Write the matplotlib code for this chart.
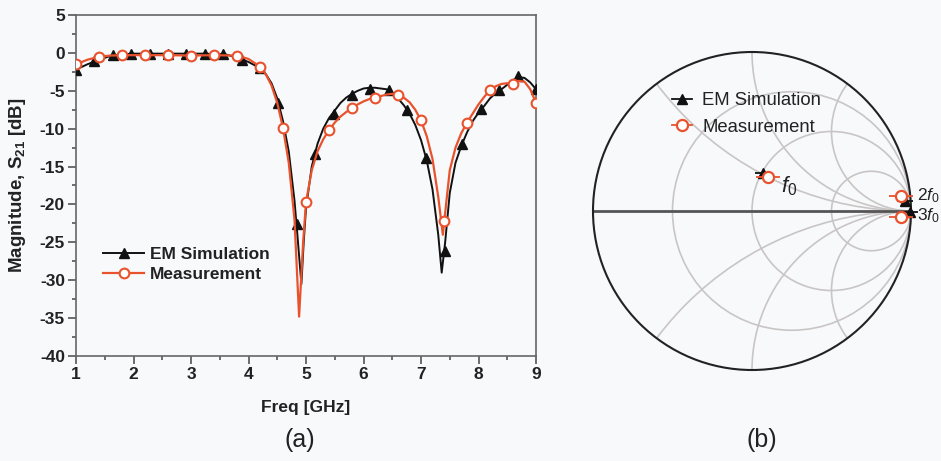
import numpy as np
import matplotlib
matplotlib.use("Agg")
import matplotlib.pyplot as plt
from matplotlib.lines import Line2D
from matplotlib.patches import Circle
from matplotlib.ticker import MultipleLocator

plt.rcParams['font.family'] = ['Liberation Sans', 'DejaVu Sans']
plt.rcParams['mathtext.fontset'] = 'custom'
plt.rcParams['mathtext.rm'] = 'Liberation Sans'
plt.rcParams['mathtext.it'] = 'Liberation Sans:italic'
plt.rcParams['mathtext.bf'] = 'Liberation Sans:bold'
plt.rcParams['axes.unicode_minus'] = False

# ---------------- (a) S21 data ----------------
sim_curve_f = [1.0, 1.2, 1.4, 1.6, 1.8, 2.0, 2.4, 2.8, 3.2, 3.6, 3.8, 4.0, 4.2, 4.3, 4.4, 4.5,
               4.6, 4.7, 4.8, 4.85, 4.92, 4.96, 5.0, 5.1, 5.2, 5.3, 5.4, 5.5, 5.6, 5.7, 5.8,
               5.9, 6.0, 6.1, 6.2, 6.3, 6.4, 6.5, 6.6, 6.7, 6.8, 6.9, 7.0, 7.1, 7.2, 7.3,
               7.36, 7.42, 7.5, 7.6, 7.7, 7.8, 7.9, 8.0, 8.1, 8.2, 8.3, 8.4, 8.5, 8.6, 8.7,
               8.8, 8.9, 9.0]
sim_curve_db = [-2.2, -1.5, -0.9, -0.4, -0.2, -0.1, -0.1, -0.1, -0.1, -0.2, -0.6, -1.2, -2.0,
                -2.8, -4.0, -6.0, -9.0, -13.0, -19.5, -24.0, -30.5, -25.0, -20.5, -15.0, -12.0,
                -10.0, -8.6, -7.6, -6.6, -5.9, -5.4, -5.0, -4.7, -4.6, -4.6, -4.7, -4.8, -5.3,
                -6.0, -6.9, -8.0, -9.5, -11.5, -14.2, -18.0, -24.0, -29.0, -25.0, -18.5, -14.5,
                -12.3, -10.5, -9.0, -7.9, -7.0, -6.0, -5.3, -4.8, -4.2, -3.6, -3.2, -3.3, -3.9,
                -4.8]
sim_mark_f = [1.00, 1.32, 1.64, 1.96, 2.28, 2.60, 2.92, 3.24, 3.56, 3.88, 4.20, 4.52, 4.84,
              5.16, 5.48, 5.80, 6.12, 6.44, 6.76, 7.08, 7.42, 7.72, 8.04, 8.36, 8.68, 9.00]
sim_mark_db = [-2.2, -1.1, -0.3, -0.1, -0.1, -0.2, -0.1, -0.1, -0.1, -1.0, -2.0, -6.6, -22.6,
               -13.3, -8.0, -5.5, -4.7, -4.9, -7.5, -13.9, -26.1, -12.0, -7.4, -4.9, -3.1, -4.8]

meas_curve_f = [1.0, 1.2, 1.4, 1.6, 1.8, 2.2, 2.6, 3.0, 3.4, 3.8, 4.0, 4.2, 4.3, 4.4, 4.5, 4.6,
                4.7, 4.8, 4.88, 4.95, 5.0, 5.1, 5.2, 5.3, 5.4, 5.5, 5.6, 5.7, 5.8, 5.9, 6.0,
                6.1, 6.2, 6.3, 6.4, 6.5, 6.6, 6.7, 6.8, 6.9, 7.0, 7.1, 7.2, 7.3, 7.38, 7.45,
                7.5, 7.6, 7.7, 7.8, 7.9, 8.0, 8.1, 8.2, 8.3, 8.4, 8.5, 8.6, 8.7, 8.8, 8.9, 9.0]
meas_curve_db = [-1.5, -0.9, -0.5, -0.35, -0.3, -0.3, -0.3, -0.35, -0.3, -0.35, -0.8, -1.8,
                 -2.8, -4.3, -6.6, -9.9, -14.5, -22.0, -34.8, -25.0, -19.7, -15.5, -13.0, -11.4,
                 -10.2, -9.2, -8.4, -7.8, -7.3, -6.8, -6.4, -6.1, -5.9, -5.7, -5.5, -5.4, -5.5,
                 -5.9, -6.5, -7.5, -8.9, -11.0, -14.0, -19.0, -24.0, -19.0, -15.5, -12.5, -10.6,
                 -9.2, -8.0, -6.8, -5.8, -4.9, -4.4, -4.1, -4.0, -4.1, -3.7, -3.8, -4.8, -6.6]
meas_mark_f = [1.0, 1.4, 1.8, 2.2, 2.6, 3.0, 3.4, 3.8, 4.2, 4.6, 5.0, 5.4, 5.8, 6.2, 6.6, 7.0,
               7.4, 7.8, 8.2, 8.6, 9.0]
meas_mark_db = [-1.5, -0.5, -0.3, -0.3, -0.3, -0.35, -0.3, -0.35, -1.8, -9.9, -19.7, -10.2,
                -7.3, -5.9, -5.5, -8.9, -22.2, -9.2, -4.9, -4.1, -6.6]

# ---------------- (b) Smith chart data (reflection coefficient) ----------------
smith_labels = ['$f_0$', '$2f_0$', '$3f_0$']
sim_gamma_re = [0.071, 0.965, 0.994]
sim_gamma_im = [0.237, 0.062, -0.004]
meas_gamma_re = [0.099, 0.937, 0.937]
meas_gamma_im = [0.212, 0.094, -0.036]
grid_r = [1 / 3, 1.0, 3.0]
grid_x = [0.5, 1.0, 2.0, -0.5, -1.0, -2.0]

RED = '#e8532e'
BLACK = '#111111'
BG = '#f8f9fb'
TXT = '#222222'
FS = 12.5

W, H = 941, 461
fig = plt.figure(figsize=(W / 100, H / 100), dpi=100, facecolor=BG)

# ---------------- panel (a) ----------------
L, R, T, B = 76, 536, 15, 356
ax = fig.add_axes([L / W, 1 - B / H, (R - L) / W, (B - T) / H], facecolor=BG)
ax.plot(sim_curve_f, sim_curve_db, color=BLACK, lw=1.4, zorder=3)
ax.plot(sim_mark_f, sim_mark_db, ls='none', marker='^', ms=7.5, color=BLACK, zorder=4)
ax.plot(meas_curve_f, meas_curve_db, color=RED, lw=1.6, zorder=5)
ax.plot(meas_mark_f, meas_mark_db, ls='none', marker='o', ms=7, mfc='white', mec=RED,
        mew=1.5, zorder=6)
ax.set_xlim(1, 9)
ax.set_ylim(-40, 5)
ax.xaxis.set_major_locator(MultipleLocator(1))
ax.xaxis.set_minor_locator(MultipleLocator(0.5))
ax.yaxis.set_major_locator(MultipleLocator(5))
ax.yaxis.set_minor_locator(MultipleLocator(2.5))
ax.tick_params(which='major', direction='out', length=6, width=1.2, color='#555555',
               labelsize=FS, labelcolor=TXT, pad=2)
ax.tick_params(which='minor', direction='out', length=3, width=1.2, color='#555555')
ax.tick_params(top=False, right=False, which='both')
for lab in ax.get_xticklabels() + ax.get_yticklabels():
    lab.set_fontweight('bold')
for s in ax.spines.values():
    s.set_color('#666666')
    s.set_linewidth(1.2)
ax.set_xlabel('Freq [GHz]', fontsize=FS, fontweight='bold', color=TXT)
ax.set_ylabel(r'Magnitude, S$_{\mathbf{21}}$ [dB]', fontsize=13.5, fontweight='bold', color=TXT)
ax.xaxis.set_label_coords(0.5, -0.128)
ax.yaxis.set_label_coords(-0.104, 0.5)

h_sim = Line2D([], [], color=BLACK, lw=1.4, marker='^', ms=7.5)
h_meas = Line2D([], [], color=RED, lw=1.6, marker='o', ms=7, mfc='white', mec=RED, mew=1.5)
leg = ax.legend([h_sim, h_meas], ['EM Simulation', 'Measurement'], loc='upper left',
                bbox_to_anchor=(0.058, 0.32), frameon=False, handlelength=2.4,
                handletextpad=0.3, labelspacing=0.3, borderpad=0, borderaxespad=0,
                prop={'size': FS, 'weight': 'bold'})
for t in leg.get_texts():
    t.set_color(TXT)

fig.text(300 / W, 1 - 440 / H, '(a)', fontsize=18, color=TXT, ha='center', va='center')

# ---------------- panel (b) Smith chart ----------------
cx, cy, rad = 752, 211, 159
span = 1.3
sax = fig.add_axes([(cx - span * rad) / W, 1 - (cy + span * rad) / H,
                    2 * span * rad / W, 2 * span * rad / H])
sax.set_xlim(-span, span)
sax.set_ylim(-span, span)
sax.axis('off')
clip = Circle((0, 0), 1.0, transform=sax.transData)
GRID = '#c9c5c5'
for r in grid_r:
    c = Circle((r / (1 + r), 0), 1 / (1 + r), fill=False, ec=GRID, lw=1.2, zorder=1)
    sax.add_patch(c)
    c.set_clip_path(clip)
for x in grid_x:
    c = Circle((1, 1 / x), 1 / abs(x), fill=False, ec=GRID, lw=1.2, zorder=1)
    sax.add_patch(c)
    c.set_clip_path(clip)
sax.plot([-1, 1], [0, 0], color='#555555', lw=2.0, zorder=2)
sax.add_patch(Circle((0, 0), 1.0, fill=False, ec='#222222', lw=1.5, zorder=3))

sax.plot(sim_gamma_re, sim_gamma_im, ls='none', marker='_', ms=12, mew=1.3, color=BLACK, zorder=4)
sax.plot(sim_gamma_re, sim_gamma_im, ls='none', marker='^', ms=7, color=BLACK, zorder=5)
sax.plot(meas_gamma_re, meas_gamma_im, ls='none', marker='_', ms=17, mew=1.3, color=RED, zorder=6)
sax.plot(meas_gamma_re, meas_gamma_im, ls='none', marker='o', ms=8, mfc='white', mec=RED,
         mew=1.6, zorder=7)

label_pos = [(0.18, 0.155), (1.04, 0.097), (1.04, -0.03)]
label_fs = [16, 12.5, 12.5]
for lab, (lx, ly), lf in zip(smith_labels, label_pos, label_fs):
    sax.text(lx, ly, lab, fontsize=lf, color=TXT, ha='left', va='center', clip_on=False)

hs = Line2D([], [], color=BLACK, lw=1.3, marker='^', ms=7)
hm = Line2D([], [], color=RED, lw=1.3, marker='o', ms=8, mfc='white', mec=RED, mew=1.6)
leg2 = sax.legend([hs, hm], ['EM Simulation', 'Measurement'], loc='center left',
                  bbox_to_anchor=((672 - (cx - span * rad)) / (2 * span * rad),
                                  1 - (114 - (cy - span * rad)) / (2 * span * rad)),
                  frameon=False, handlelength=1.1, handletextpad=0.55, labelspacing=0.5,
                  borderpad=0, borderaxespad=0, prop={'size': 13.3})
for t in leg2.get_texts():
    t.set_color(TXT)

fig.text(762 / W, 1 - 440 / H, '(b)', fontsize=18, color=TXT, ha='center', va='center')

fig.savefig('out.png', dpi=100, facecolor=BG)
